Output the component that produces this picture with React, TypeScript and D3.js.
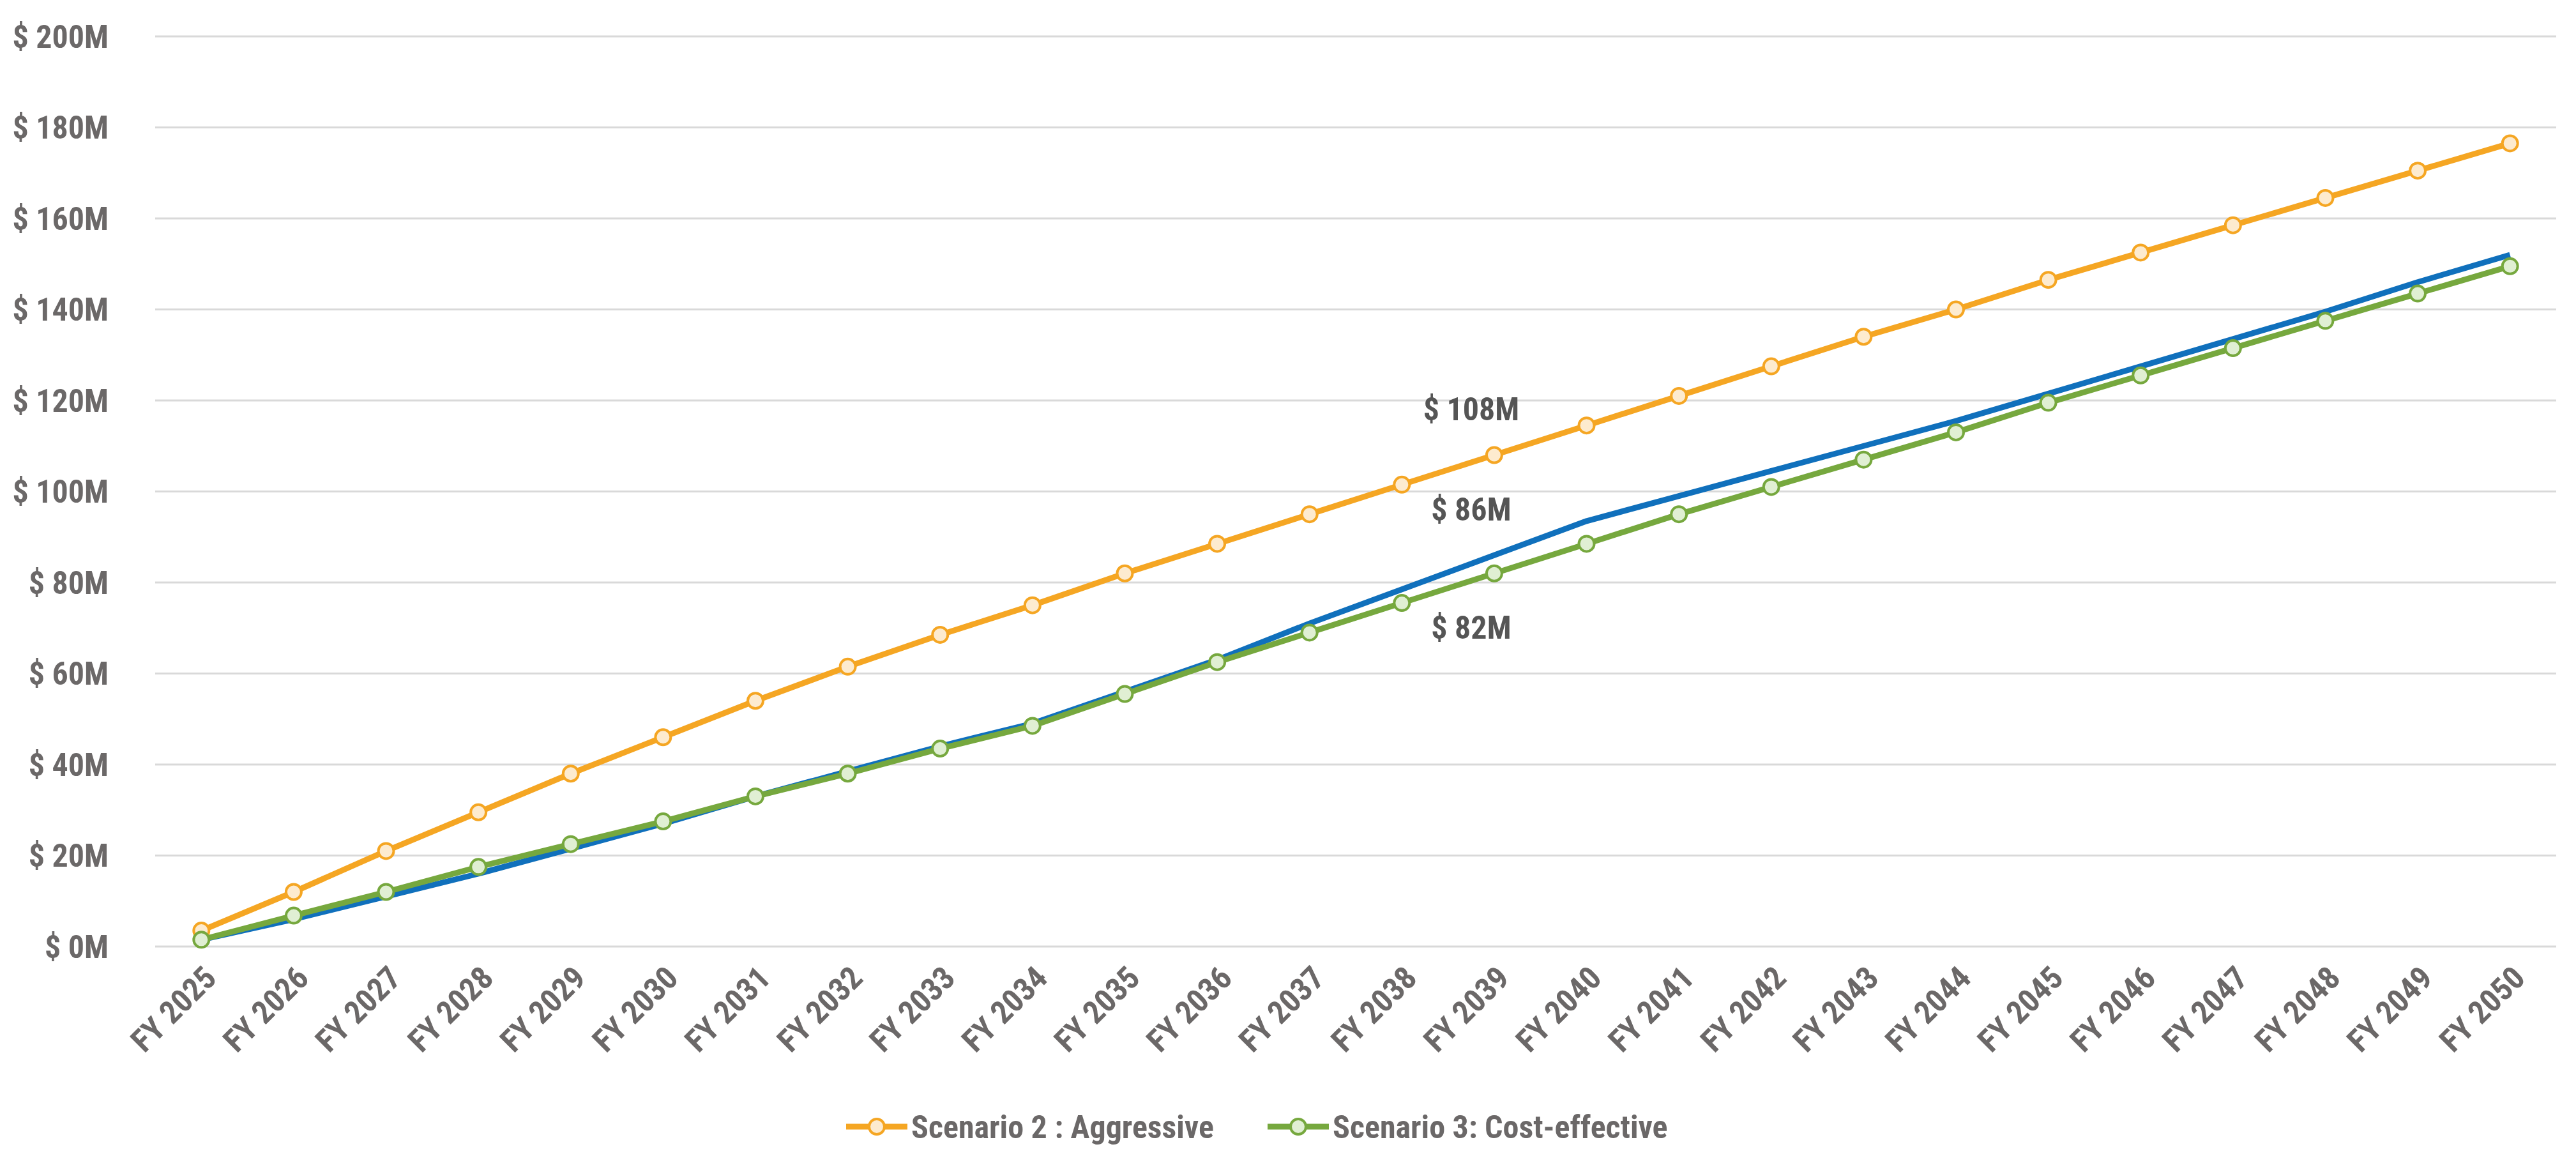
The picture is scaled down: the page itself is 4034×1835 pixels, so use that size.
import * as d3 from 'd3'
import { useEffect, useRef } from "react";

const years = d3.range(2025, 2051).map(y => `FY ${y}`)
const aggressive = [3.5, 12, 21, 29.5, 38, 46, 54, 61.5, 68.5, 75, 82, 88.5, 95, 101.5, 108, 114.5, 121, 127.5, 134, 140, 146.5, 152.5, 158.5, 164.5, 170.5, 176.5]
const costEffective = [1.5, 6.8, 12, 17.5, 22.5, 27.5, 33, 38, 43.5, 48.5, 55.5, 62.5, 69, 75.5, 82, 88.5, 95, 101, 107, 113, 119.5, 125.5, 131.5, 137.5, 143.5, 149.5]
const baseline = [1.5, 6, 11, 16, 21.5, 27, 33, 38.5, 44, 49, 56, 63, 71, 78.5, 86, 93.5, 99, 104.5, 110, 115.5, 121.5, 127.5, 133.5, 139.5, 146, 152]
const yTicks = [0, 20, 40, 60, 80, 100, 120, 140, 160, 180, 200]

const W = 4034, H = 1835
const FONT = "'Liberation Sans Narrow', 'Roboto Condensed', 'Arial Narrow', sans-serif"
const GREY = '#6b6868'

const App = () => {
  const svgRef = useRef(null);
  useEffect(() => {
    document.body.style.margin = '0'
    const svg = d3.select(svgRef.current)
    svg.selectAll('*').remove()
    const m = { left: 243, right: 4003, top: 57, bottom: 1482 }

    const x = d3.scaleBand().domain(years).range([m.left, m.right])
    const cx = (i: number) => x(years[i])! + x.bandwidth() / 2
    const y = d3.scaleLinear().domain([0, 200]).range([m.bottom, m.top])

    // grid + y labels
    const g = svg.append('g')
    g.selectAll('line.grid').data(yTicks).enter().append('line')
      .attr('x1', m.left).attr('x2', m.right)
      .attr('y1', d => y(d)).attr('y2', d => y(d))
      .attr('stroke', '#d9d9d9').attr('stroke-width', 3)
    g.selectAll('text.yl').data(yTicks).enter().append('text')
      .attr('x', 170).attr('y', d => y(d)).attr('dy', '0.35em')
      .attr('text-anchor', 'end').attr('font-family', FONT).attr('font-weight', 'bold')
      .attr('font-size', 50).attr('fill', GREY).text(d => `$ ${d}M`)

    // x labels
    g.selectAll('text.xl').data(years).enter().append('text')
      .attr('transform', (d, i) => `translate(${cx(i) + 14},${m.bottom + 40}) rotate(-45)`)
      .attr('text-anchor', 'end').attr('dy', '0.35em')
      .attr('font-family', FONT).attr('font-weight', 'bold')
      .attr('font-size', 50).attr('fill', GREY).text(d => d)

    const line = d3.line<number>().x((d, i) => cx(i)).y(d => y(d))
    const series = [
      { data: aggressive, color: '#f5a623', fill: '#fdebcf', markers: true },
      { data: baseline, color: '#1070bc', fill: '', markers: false },
      { data: costEffective, color: '#76a83e', fill: '#e0efd3', markers: true },
    ]
    series.forEach(s => {
      svg.append('path').datum(s.data).attr('d', line).attr('fill', 'none')
        .attr('stroke', s.color).attr('stroke-width', 9).attr('stroke-linejoin', 'round')
      if (s.markers) {
        svg.append('g').selectAll('circle').data(s.data).enter().append('circle')
          .attr('cx', (d, i) => cx(i)).attr('cy', d => y(d)).attr('r', 12)
          .attr('fill', s.fill).attr('stroke', s.color).attr('stroke-width', 4)
      }
    })

    // data labels at FY 2039
    const li = 14
    const labels = [
      { v: aggressive[li], t: '$ 108M', dy: -72 },
      { v: baseline[li], t: '$ 86M', dy: -72 },
      { v: costEffective[li], t: '$ 82M', dy: 85 },
    ]
    svg.append('g').selectAll('text').data(labels).enter().append('text')
      .attr('x', cx(li) - 36).attr('y', d => y(d.v) + d.dy).attr('dy', '0.35em')
      .attr('text-anchor', 'middle').attr('font-family', FONT).attr('font-weight', 'bold')
      .attr('font-size', 50).attr('fill', '#555').text(d => d.t)

    // legend
    const legend = [
      { t: 'Scenario 2 : Aggressive', color: '#f5a623', fill: '#fdebcf', x: 1325 },
      { t: 'Scenario 3: Cost-effective', color: '#76a83e', fill: '#e0efd3', x: 1985 },
    ]
    const lg = svg.append('g').selectAll('g').data(legend).enter().append('g')
      .attr('transform', d => `translate(${d.x},1764)`)
    lg.append('line').attr('x1', 0).attr('x2', 96).attr('stroke', d => d.color).attr('stroke-width', 9)
    lg.append('circle').attr('cx', 48).attr('r', 12).attr('fill', d => d.fill)
      .attr('stroke', d => d.color).attr('stroke-width', 4)
    lg.append('text').attr('x', 102).attr('dy', '0.35em').attr('font-family', FONT)
      .attr('font-weight', 'bold').attr('font-size', 50).attr('fill', GREY).text(d => d.t)
  }, [])

  return <svg ref={svgRef} width={W} height={H} style={{ display: 'block', background: '#fff' }} />
}

export default App
